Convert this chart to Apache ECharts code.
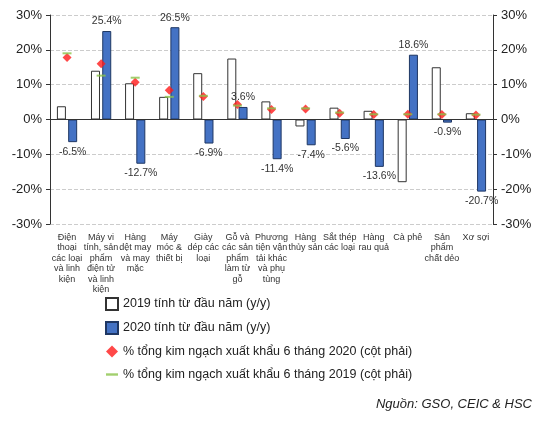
<!DOCTYPE html>
<html><head><meta charset="utf-8">
<script src="https://cdn.jsdelivr.net/npm/echarts@6/dist/echarts.min.js"></script>
<style>body{margin:0}#container{width:554px;height:421px}</style>
</head><body><div id="container"></div>
<script>
var categories = ['Điện\nthoại\ncác loại\nvà linh\nkiện', 'Máy vi\ntính, sản\nphẩm\nđiện tử\nvà linh\nkiện', 'Hàng\ndệt may\nvà may\nmặc', 'Máy\nmóc &\nthiết bị', 'Giày\ndép các\nloại', 'Gỗ và\ncác sản\nphẩm\nlàm từ\ngỗ', 'Phương\ntiện vận\ntải khác\nvà phụ\ntùng', 'Hàng\nthủy sản', 'Sắt thép\ncác loại', 'Hàng\nrau quả', 'Cà phê', 'Sản\nphẩm\nchất dẻo', 'Xơ sợi'];
var ytd2019 = [3.8, 14, 10.4, 6.5, 13.3, 17.5, 5.2, -2, 3.4, 2.5, -18, 15, 1.8];
var ytd2020 = [-6.5, 25.4, -12.7, 26.5, -6.9, 3.6, -11.4, -7.4, -5.6, -13.6, 18.6, -0.9, -20.7];
var share2020 = [17.8, 16, 10.7, 8.4, 6.6, 4.3, 2.9, 3.0, 1.8, 1.4, 1.5, 1.4, 1.3];
var share2019 = [19, 12.6, 12, 6.5, 6.8, 4.0, 3.2, 3.2, 2.0, 1.5, 1.5, 1.5, 1.4];
var names = ['2019 tính từ đầu năm (y/y)', '2020 tính từ đầu năm (y/y)',
  '% tổng kim ngạch xuất khẩu 6 tháng 2020 (cột phải)', '% tổng kim ngạch xuất khẩu 6 tháng 2019 (cột phải)'];

var myChart = echarts.init(document.getElementById('container'));
var fontFamily = 'Liberation Sans, Arial, sans-serif';
function yAxis(pos) {
  return {
    type: 'value', position: pos, min: -30, max: 30, interval: 10,
    axisLine: {show: true, lineStyle: {color: '#333'}},
    axisTick: {show: true, length: 4, lineStyle: {color: '#333'}},
    axisLabel: {formatter: '{value}%', color: '#222', fontSize: 13, fontFamily: fontFamily},
    splitLine: {show: pos === 'left', lineStyle: {type: 'dashed', color: '#ccc'}}
  };
}
var option = {
  animation: false,
  textStyle: {fontFamily: fontFamily},
  grid: {left: 50, right: 61, top: 15, bottom: 197},
  legend: {
    orient: 'vertical', left: 100, top: 292, itemGap: 10, itemWidth: 12, itemHeight: 12,
    textStyle: {fontSize: 12.5, color: '#222'},
    data: [
      {name: names[0], icon: 'rect'},
      {name: names[1], icon: 'rect'},
      {name: names[2], icon: 'diamond'},
      {name: names[3], icon: 'path://M0,5 L10,5 L10,7 L0,7 Z'}
    ]
  },
  xAxis: {
    type: 'category', data: categories,
    axisLine: {show: false}, axisTick: {show: false},
    axisLabel: {interval: 0, fontSize: 9, color: '#333', lineHeight: 10.5, margin: 8, verticalAlign: 'top'}
  },
  yAxis: [yAxis('left'), yAxis('right')],
  series: [
    {name: names[0], type: 'bar', data: ytd2019, barWidth: 9, barGap: '25%',
     itemStyle: {color: '#fff', borderColor: '#333', borderWidth: 1}},
    {name: names[1], type: 'bar', data: ytd2020.map(function (v) {
        return {value: v, label: {position: v < 0 ? 'bottom' : 'top'}};
      }), barWidth: 9,
     itemStyle: {color: '#4472c4', borderColor: '#1f3763', borderWidth: 1},
     label: {show: true, formatter: function (p) { return p.value.toFixed(1) + '%'; }, fontSize: 10.5, color: '#333', distance: 4},
     markLine: {silent: true, symbol: 'none', label: {show: false},
       lineStyle: {color: '#333', type: 'solid', width: 1}, data: [{yAxis: 0}]}},
    {name: names[3], type: 'scatter', yAxisIndex: 1, data: share2019, symbol: 'rect', symbolSize: [9, 2],
     itemStyle: {color: '#8bc34a'}, z: 4},
    {name: names[2], type: 'scatter', yAxisIndex: 1, data: share2020, symbol: 'diamond', symbolSize: 9,
     itemStyle: {color: '#ff1a1a'}, z: 3}
  ],
  graphic: [{type: 'text', right: 22, bottom: 10,
    style: {text: 'Nguồn: GSO, CEIC & HSC', font: 'italic 13px Liberation Sans, Arial, sans-serif', fill: '#222'}}]
};
myChart.setOption(option);
</script></body></html>
